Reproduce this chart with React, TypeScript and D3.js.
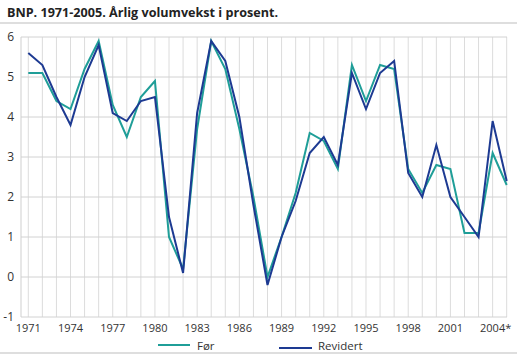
import React from "react";
import * as d3 from "d3";

const years = d3.range(1971, 2006);
const tickYears = [1971, 1974, 1977, 1980, 1983, 1986, 1989, 1992, 1995, 1998, 2001, 2004];
const tickLabels = ["1971", "1974", "1977", "1980", "1983", "1986", "1989", "1992", "1995", "1998", "2001", "2004*"];
const yTicks = [-1, 0, 1, 2, 3, 4, 5, 6];

const forValues = [
  5.1, 5.1, 4.4, 4.2, 5.2, 5.9, 4.3, 3.5, 4.5, 4.9,
  1.0, 0.2, 3.7, 5.9, 5.2, 3.7, 2.0, 0.0, 1.0, 2.1,
  3.6, 3.4, 2.7, 5.3, 4.4, 5.3, 5.2, 2.7, 2.1, 2.8,
  2.7, 1.1, 1.1, 3.1, 2.3,
];
const revidertValues = [
  5.6, 5.3, 4.5, 3.8, 5.0, 5.8, 4.1, 3.9, 4.4, 4.5,
  1.5, 0.1, 4.1, 5.9, 5.4, 4.0, 1.8, -0.2, 1.0, 1.9,
  3.1, 3.5, 2.8, 5.1, 4.2, 5.1, 5.4, 2.6, 2.0, 3.3,
  2.0, 1.5, 1.0, 3.9, 2.4,
];

const seriesNames = ["Før", "Revidert"];
const colors = ["#1f9e98", "#1d3a92"];

const W = 517;
const H = 356;
const plotLeft = 21;
const plotRight = 507;
const plotTop = 37;
const plotBottom = 317;

export default function App() {
  const x = d3.scaleLinear().domain([1971, 2005]).range([28.3, 506.7]);
  const y = d3.scaleLinear().domain([-1, 6]).range([plotBottom, plotTop]);
  const line = d3
    .line<number>()
    .x((_, i) => x(years[i]))
    .y((d) => y(d));
  const font = "'Open Sans', 'DejaVu Sans', sans-serif";
  const series = [forValues, revidertValues];

  return (
    <svg
      width={W}
      height={H}
      style={{ position: "absolute", left: 0, top: 0, background: "#fff" }}
      fontFamily={font}
    >
      <text x={7} y={17} fontSize={12.6} fontWeight="bold" fill="#222">
        BNP. 1971-2005. Årlig volumvekst i prosent.
      </text>
      <line x1={0} x2={W} y1={23} y2={23} stroke="#bdbdbd" strokeWidth={1} />

      {years.map((yr) => (
        <line
          key={"v" + yr}
          x1={x(yr)}
          x2={x(yr)}
          y1={plotTop}
          y2={plotBottom}
          stroke="#dcdcdc"
          strokeWidth={1}
        />
      ))}
      {yTicks.map((t) => (
        <line
          key={"h" + t}
          x1={plotLeft}
          x2={plotRight}
          y1={y(t)}
          y2={y(t)}
          stroke="#d2d2d2"
          strokeWidth={1}
        />
      ))}
      <line x1={plotLeft} x2={plotLeft} y1={plotTop} y2={plotBottom} stroke="#cfcfcf" strokeWidth={1} />

      {yTicks.map((t) => (
        <text
          key={"yl" + t}
          x={14}
          y={y(t) + 4}
          fontSize={12}
          textAnchor="end"
          fill="#333"
        >
          {t}
        </text>
      ))}
      {tickYears.map((yr, i) => (
        <text
          key={"xl" + yr}
          x={x(yr) + (i === tickYears.length - 1 ? 3 : 0)}
          y={332}
          fontSize={11}
          textAnchor="middle"
          fill="#333"
        >
          {tickLabels[i]}
        </text>
      ))}

      {series.map((vals, i) => (
        <path
          key={"s" + i}
          d={line(vals) || ""}
          fill="none"
          stroke={colors[i]}
          strokeWidth={2}
          strokeLinejoin="miter"
        />
      ))}

      <line x1={158} x2={190} y1={345} y2={345} stroke={colors[0]} strokeWidth={2} />
      <text x={197} y={350} fontSize={11.5} fill="#333">
        {seriesNames[0]}
      </text>
      <line x1={279} x2={312} y1={348} y2={348} stroke={colors[1]} strokeWidth={2} />
      <text x={318} y={350} fontSize={11.5} fill="#333">
        {seriesNames[1]}
      </text>

      <line x1={0} x2={W} y1={353} y2={353} stroke="#bdbdbd" strokeWidth={1} />
    </svg>
  );
}
